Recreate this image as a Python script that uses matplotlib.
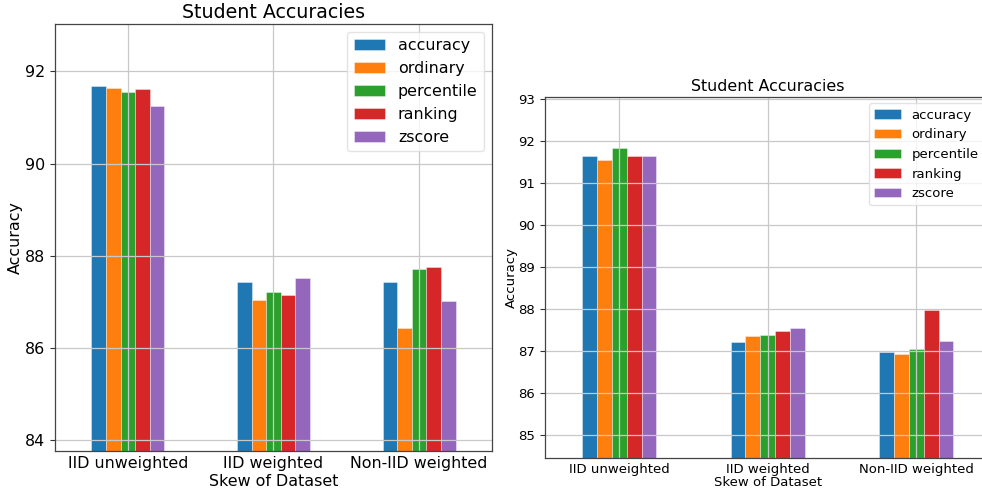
import matplotlib
matplotlib.use("Agg")
import matplotlib.pyplot as plt
import numpy as np

categories = ["IID unweighted", "IID weighted", "Non-IID weighted"]
methods = ["accuracy", "ordinary", "percentile", "ranking", "zscore"]
colors = ["#1f77b4", "#ff7f0e", "#2ca02c", "#d62728", "#9467bd"]

# left panel: one value per method for each skew setting
left_accuracy = [91.69, 87.43, 87.43]
left_ordinary = [91.65, 87.04, 86.43]
left_percentile = [91.55, 87.22, 87.72]
left_ranking = [91.62, 87.16, 87.77]
left_zscore = [91.25, 87.53, 87.02]

# right panel
right_accuracy = [91.64, 87.21, 86.98]
right_ordinary = [91.54, 87.36, 86.93]
right_percentile = [91.83, 87.38, 87.06]
right_ranking = [91.64, 87.48, 87.98]
right_zscore = [91.63, 87.55, 87.24]

left_yticks = [84, 86, 88, 90, 92]
right_yticks = [85, 86, 87, 88, 89, 90, 91, 92, 93]

W, H = 982, 493
fig = plt.figure(figsize=(W / 100, H / 100), dpi=100)


def panel(rect, series, ylim, yticks, scale, xpad, ypad):
    ax = fig.add_axes([rect[0] / W, 1 - rect[3] / H,
                       (rect[1] - rect[0]) / W, (rect[3] - rect[2]) / H])
    x = np.arange(len(categories))
    width = 0.1
    for i, (name, vals) in enumerate(zip(methods, series)):
        ax.bar(x + (i - 2) * width, vals, width, color=colors[i], label=name,
               edgecolor=(1, 1, 1, 0.45), linewidth=0.6)
    ax.set_xlim(-0.5, 2.5)
    ax.set_ylim(*ylim)
    ax.set_yticks(yticks)
    ax.set_xticks(x)
    ax.set_xticklabels(categories, fontsize=10 * scale)
    ax.tick_params(axis="y", labelsize=10 * scale, length=3.5, width=0.8,
                   color="#333333")
    ax.tick_params(axis="x", length=0)
    ax.grid(True, color="#c8c8c8", linewidth=0.9)
    for s in ax.spines.values():
        s.set_color("#444444")
        s.set_linewidth(0.9)
    ax.set_title("Student Accuracies", fontsize=12 * scale, pad=4)
    ax.set_xlabel("Skew of Dataset", fontsize=10 * scale, labelpad=xpad)
    ax.set_ylabel("Accuracy", fontsize=10 * scale, labelpad=ypad)
    leg = ax.legend(loc="upper right", fontsize=10 * scale, frameon=True)
    leg.get_frame().set_edgecolor("#dddddd")
    return ax


panel((55, 492, 24, 451),
      [left_accuracy, left_ordinary, left_percentile, left_ranking, left_zscore],
      (83.77, 93.03), left_yticks, 1.14, 2.5, 1.5)
panel((545, 990.5, 96.7, 457.7),
      [right_accuracy, right_ordinary, right_percentile, right_ranking, right_zscore],
      (84.47, 93.05), right_yticks, 0.955, 0.5, 0.5)

fig.savefig("out.png", dpi=100)
